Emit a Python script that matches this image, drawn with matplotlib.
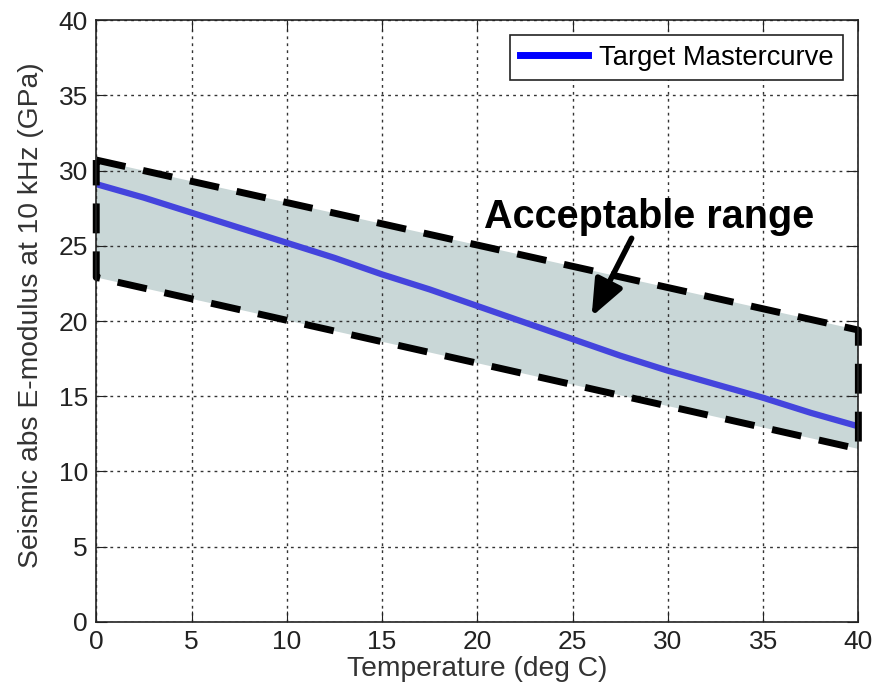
import matplotlib
matplotlib.use("Agg")
import matplotlib.pyplot as plt
from matplotlib.lines import Line2D

plt.rcParams['font.family'] = ['Liberation Sans', 'DejaVu Sans']

# Target mastercurve
temp = [0, 2.5, 5, 7.5, 10, 12.5, 15, 17.5, 20, 22.5, 25, 27.5, 30, 32.5, 35, 37.5, 40]
modulus = [29.1, 28.2, 27.2, 26.2, 25.2, 24.2, 23.1, 22.1, 21.0, 19.9, 18.8, 17.7,
           16.7, 15.8, 14.9, 13.9, 13.0]

# Acceptable range polygon (corners)
range_x = [0, 40, 40, 0, 0]
range_y = [30.7, 19.4, 11.5, 22.9, 30.7]

x_ticks = [0, 5, 10, 15, 20, 25, 30, 35, 40]
y_ticks = [0, 5, 10, 15, 20, 25, 30, 35, 40]

fig = plt.figure(figsize=(8.75, 6.93), dpi=100)
ax = fig.add_axes([0.110, 0.1025, 0.871, 0.8685])

ax.fill(range_x, range_y, color='#c9d7d7', zorder=1, linewidth=0)
ax.plot(temp, modulus, color='#4444dd', linewidth=4.5, zorder=3)
ax.plot(range_x, range_y, color='black', linewidth=5,
        linestyle=(0, (4.3, 2.6)), zorder=4, clip_on=False)

ax.set_xlim(0, 40)
ax.set_ylim(0, 40)
ax.set_xticks(x_ticks)
ax.set_yticks(y_ticks)
ax.grid(True, color='#333333', linestyle=(0, (2, 3)), linewidth=1, zorder=2)
ax.set_axisbelow(False)
ax.tick_params(direction='in', length=8, top=True, right=True,
               labelsize=19, colors='#222222', pad=6)
for s in ax.spines.values():
    s.set_linewidth(1.2)
    s.set_color('#222222')
    s.set_zorder(5)

ax.set_xlabel('Temperature (deg C)', fontsize=20.3, color='#333333', labelpad=1)
ax.set_ylabel('Seismic abs E-modulus at 10 kHz (GPa)', fontsize=20.3,
              color='#333333')
ax.yaxis.set_label_coords(-0.068, 0.51)

# annotation text and arrow
ax.text(29.0, 26.9, 'Acceptable range', fontsize=28.5, fontweight='bold',
        ha='center', va='center', zorder=6)
ax.annotate('', xy=(26.0, 20.3), xytext=(28.1, 25.5),
            arrowprops=dict(arrowstyle='-|>,head_length=1.1,head_width=0.45',
                            color='black', lw=4, shrinkA=0, shrinkB=0,
                            mutation_scale=20),
            zorder=6)

handle = Line2D([0], [0], color='blue', linewidth=5)
leg = ax.legend([handle], ['Target Mastercurve'], loc='upper right',
                fontsize=19.7, fancybox=False, framealpha=1, edgecolor='#222222',
                handlelength=2.5, borderaxespad=0.55, borderpad=0.35,
                handletextpad=0.4)
leg.get_frame().set_linewidth(1.2)
leg.set_zorder(7)

fig.savefig('out.png', dpi=100)
